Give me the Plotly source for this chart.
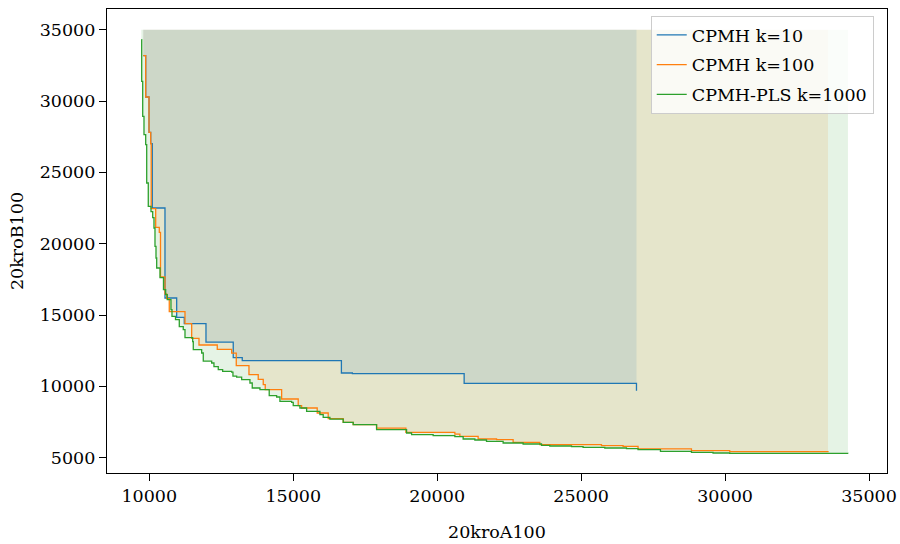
import plotly.graph_objects as go

# Pareto fronts (20kroA100, 20kroB100)
k10_x = [9792, 9875, 9990, 10049, 10104, 10545, 10951, 11215, 11969, 12916, 13229, 16673, 17055, 20937, 26923]
k10_y = [33178, 30283, 27802, 27010, 22503, 16195, 14835, 14394, 13097, 12010, 11800, 10938, 10889, 10209, 9697]

k100_x = [9792, 9875, 9990, 10049, 10066, 10222, 10347, 10389, 10545, 10604, 10694, 11240, 11472, 11726,
          12361, 12861, 13021, 13462, 13784, 13958, 14028, 14597, 15173, 15291, 15833, 16215, 16736, 17083,
          17895, 18913, 20614, 20788, 21423, 22062, 22638, 23565, 25707, 26457, 26978, 28832, 30162, 33575]
k100_y = [33178, 30283, 27802, 27010, 22454, 21143, 20793, 17667, 16475, 16146, 15235, 14394, 13363, 12901,
          12592, 12326, 11450, 10819, 10490, 10118, 9768, 9116, 8646, 8485, 8134, 7735, 7476, 7314,
          7069, 6775, 6649, 6494, 6312, 6263, 6074, 5915, 5843, 5793, 5612, 5492, 5422, 5387]

k1000_x = [9722, 9736, 9771, 9816, 9875, 9910, 9965, 10059, 10118, 10163, 10198, 10233, 10257, 10372,
           10493, 10569, 10625, 10753, 10788, 10910, 11042, 11180, 11240, 11507, 11528, 11819, 11875, 12167,
           12246, 12396, 12548, 12861, 12906, 13035, 13208, 13496, 13576, 13844, 14166, 14423, 14538, 14944,
           15000, 15232, 15465, 15927, 16041, 16274, 16736, 17083, 17895, 18937, 19111, 19860, 20614, 20902,
           21309, 21714, 22291, 22985, 23624, 23912, 24666, 25068, 25822, 26575, 26978, 27756, 28832, 29582,
           30162, 34269]
k1000_y = [34299, 31376, 28923, 27641, 26940, 24255, 22615, 22244, 21823, 21101, 19811, 18998, 18298, 17618,
           16777, 16426, 16076, 15375, 14905, 14674, 14183, 13973, 13412, 13132, 12571, 12340, 11765, 11639,
           11380, 11169, 11050, 10994, 10714, 10644, 10468, 10237, 9887, 9768, 9347, 9256, 8948, 8877,
           8646, 8485, 8247, 8015, 7826, 7700, 7476, 7314, 6964, 6733, 6614, 6543, 6473, 6312,
           6242, 6144, 6032, 5962, 5864, 5822, 5773, 5723, 5680, 5633, 5563, 5444, 5374, 5330,
           5303, 5296]

names = ["CPMH k=10", "CPMH k=100", "CPMH-PLS k=1000"]
colors = ["#1f77b4", "#ff7f0e", "#2ca02c"]
fills = ["rgba(31,119,180,0.12)", "rgba(255,127,14,0.12)", "rgba(44,160,44,0.12)"]
ref_y = 35000

x_ticks = [10000, 15000, 20000, 25000, 30000, 35000]
y_ticks = [5000, 10000, 15000, 20000, 25000, 30000, 35000]

series = [(k10_x, k10_y), (k100_x, k100_y), (k1000_x, k1000_y)]

fig = go.Figure()

# filled dominated regions (step 'post' staircase up to reference)
fill_order = [1, 2, 0]
for idx in fill_order:
    xs, ys = series[idx]
    px = [xs[0]]
    py = [ref_y]
    px.append(xs[0]); py.append(ys[0])
    for i in range(1, len(xs)):
        px.append(xs[i]); py.append(ys[i - 1])
        px.append(xs[i]); py.append(ys[i])
    px.append(xs[-1]); py.append(ref_y)
    fig.add_trace(go.Scatter(x=px, y=py, mode="lines", fill="toself", fillcolor=fills[idx],
                             line=dict(width=0), hoverinfo="skip", showlegend=False))

for (xs, ys), nm, c in zip(series, names, colors):
    fig.add_trace(go.Scatter(x=xs, y=ys, mode="lines", name=nm, legendgroup=nm,
                             line=dict(color=c, width=1.3, shape="hv")))

font = dict(family="DejaVu Serif", size=17.5, color="black")
axis_common = dict(showline=True, linecolor="black", linewidth=1.3, mirror=True,
                   ticks="outside", ticklen=7, tickwidth=1.3, tickcolor="black",
                   showgrid=False, zeroline=False, tickformat="d", tickfont=font,
                   automargin=False)

fig.update_layout(
    width=900, height=544,
    margin=dict(l=107, r=13, t=9, b=71),
    plot_bgcolor="white", paper_bgcolor="white",
    font=font,
    xaxis=dict(range=[8531, 35625], tickvals=x_ticks,
               title=dict(text="20kroA100", font=font, standoff=20), **axis_common),
    yaxis=dict(range=[3928, 36451], tickvals=y_ticks,
               title=dict(text="20kroB100", font=font, standoff=11), **axis_common),
    legend=dict(x=0.983, y=0.985, xanchor="right", yanchor="top",
                bgcolor="rgba(255,255,255,0.8)", bordercolor="#cccccc", borderwidth=1,
                font=font, tracegroupgap=4),
)

fig.write_html("out.html")
